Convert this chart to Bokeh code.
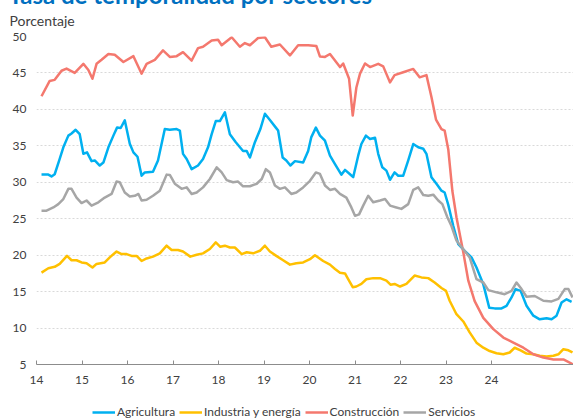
from bokeh.plotting import figure
from bokeh.layouts import column
from bokeh.models import Range1d, FixedTicker, Legend, LegendItem, Title
from bokeh.embed import file_html
from bokeh.resources import INLINE

# ---- data (x in years, e.g. 14.5 = mid 2014) ----
year_ticks = [14, 15, 16, 17, 18, 19, 20, 21, 22, 23, 24]
year_labels = ["14", "15", "16", "17", "18", "19", "20", "21", "22", "23", "24"]
y_ticks = [5, 10, 15, 20, 25, 30, 35, 40, 45, 50]

agri_x = [14.11, 14.26, 14.33, 14.40, 14.51, 14.59, 14.70, 14.77, 14.86, 14.95,
          15.03, 15.11, 15.21, 15.28, 15.39, 15.47, 15.58, 15.69, 15.77, 15.85,
          15.94, 16.05, 16.13, 16.22, 16.31, 16.38, 16.56, 16.67, 16.82, 16.93,
          17.08, 17.15, 17.22, 17.30, 17.41, 17.55, 17.66, 17.77, 17.85, 17.94,
          18.03, 18.14, 18.25, 18.38, 18.54, 18.62, 18.69, 18.80, 18.92, 19.02,
          19.13, 19.26, 19.31, 19.41, 19.49, 19.58, 19.68, 19.86, 19.97, 20.04,
          20.14, 20.23, 20.34, 20.45, 20.56, 20.70, 20.78, 20.89, 20.96, 21.07,
          21.14, 21.24, 21.33, 21.44, 21.51, 21.60, 21.69, 21.77, 21.87, 21.95,
          22.06, 22.17, 22.28, 22.39, 22.50, 22.57, 22.68, 22.79, 22.90, 22.97,
          23.05, 23.16, 23.27, 23.41, 23.56, 23.67, 23.82, 23.95, 24.07, 24.22,
          24.33, 24.44, 24.53, 24.64, 24.77, 24.92, 25.06, 25.21, 25.32, 25.43,
          25.54, 25.65, 25.76]
agri_y = [31.05, 31.05, 30.8, 31.1, 33.2, 34.8, 36.4, 36.7, 37.2, 36.6,
          33.9, 34.1, 32.9, 33.0, 32.3, 32.7, 34.8, 36.4, 37.5, 37.45,
          38.5, 35.3, 34.1, 33.5, 30.9, 31.35, 31.45, 33.0, 37.3, 37.2,
          37.3, 37.1, 33.9, 33.2, 31.8, 32.3, 33.2, 34.8, 36.6, 38.4,
          38.4, 39.6, 36.6, 35.5, 34.3, 34.3, 33.4, 35.5, 37.3, 39.4,
          38.55, 37.5, 37.1, 33.4, 33.0, 32.3, 32.9, 32.7, 34.3, 36.2,
          37.5, 36.4, 35.7, 33.65, 32.5, 31.05, 31.7, 31.1, 30.7, 33.65,
          35.25, 36.4, 35.95, 36.1, 33.9, 32.05, 31.6, 30.35, 31.35, 30.9,
          30.9, 33.0, 35.25, 34.8, 34.6, 33.9, 30.7, 29.8, 28.85, 28.6,
          26.9, 24.0, 21.5, 20.6, 19.7, 18.3, 16.0, 12.8, 12.7, 12.7,
          13.05, 14.2, 15.35, 15.1, 13.05, 11.7, 11.2, 11.35, 11.2, 11.7,
          13.5, 13.95, 13.6]

ind_x = [14.11, 14.26, 14.40, 14.51, 14.67, 14.77, 14.88, 14.99, 15.10, 15.23,
         15.32, 15.50, 15.61, 15.76, 15.87, 15.98, 16.09, 16.20, 16.31, 16.42,
         16.56, 16.71, 16.86, 16.97, 17.11, 17.22, 17.38, 17.52, 17.66, 17.81,
         17.94, 18.04, 18.14, 18.25, 18.36, 18.51, 18.62, 18.76, 18.91, 19.02,
         19.13, 19.27, 19.42, 19.57, 19.71, 19.86, 20.01, 20.12, 20.30, 20.45,
         20.56, 20.67, 20.78, 20.85, 20.95, 21.03, 21.14, 21.25, 21.40, 21.55,
         21.69, 21.78, 21.87, 21.99, 22.13, 22.31, 22.46, 22.61, 22.75, 22.90,
         23.00, 23.08, 23.23, 23.38, 23.52, 23.67, 23.82, 23.96, 24.11, 24.26,
         24.40, 24.51, 24.64, 24.77, 24.92, 25.06, 25.21, 25.36, 25.47, 25.58,
         25.69, 25.78]
ind_y = [17.6, 18.2, 18.4, 18.8, 19.9, 19.3, 19.3, 19.0, 18.9, 18.3,
         18.8, 19.0, 19.7, 20.5, 20.15, 20.15, 19.9, 19.9, 19.2, 19.55,
         19.8, 20.25, 21.3, 20.7, 20.7, 20.5, 19.8, 20.05, 20.25, 20.85,
         21.75, 21.15, 21.3, 21.05, 21.05, 20.15, 20.4, 20.25, 20.6, 21.3,
         20.5, 19.9, 19.3, 18.7, 18.9, 19.0, 19.45, 20.0, 19.2, 18.7,
         18.1, 17.6, 17.5, 16.7, 15.6, 15.7, 16.05, 16.7, 16.85, 16.85,
         16.5, 15.95, 16.05, 15.7, 16.05, 17.2, 16.95, 16.85, 16.25, 15.5,
         15.1, 13.75, 11.9, 10.9, 9.4, 8.0, 7.3, 6.85, 6.55, 6.4,
         6.65, 7.3, 6.95, 6.5, 6.4, 6.2, 6.1, 6.2, 6.4, 7.1,
         6.95, 6.65]

cons_x = [14.11, 14.29, 14.40, 14.55, 14.66, 14.84, 15.03, 15.14, 15.23, 15.32,
          15.43, 15.58, 15.72, 15.91, 16.13, 16.31, 16.42, 16.60, 16.78, 16.93,
          17.08, 17.22, 17.41, 17.55, 17.66, 17.85, 17.99, 18.07, 18.29, 18.47,
          18.58, 18.69, 18.87, 19.02, 19.16, 19.35, 19.57, 19.75, 19.97, 20.15,
          20.23, 20.34, 20.45, 20.67, 20.74, 20.87, 20.95, 21.03, 21.11, 21.22,
          21.33, 21.51, 21.62, 21.77, 21.87, 22.06, 22.28, 22.42, 22.57, 22.68,
          22.78, 22.90, 22.97, 23.05, 23.14, 23.23, 23.38, 23.49, 23.63, 23.82,
          24.04, 24.26, 24.48, 24.70, 24.92, 25.14, 25.36, 25.58, 25.80]
cons_y = [41.8, 43.9, 44.05, 45.3, 45.6, 45.0, 46.25, 45.4, 44.2, 46.25,
          46.8, 47.6, 47.5, 46.5, 47.3, 44.9, 46.25, 46.8, 48.1, 47.2,
          47.3, 47.85, 46.7, 48.4, 48.6, 49.45, 49.55, 48.8, 49.9, 48.6,
          49.1, 48.8, 49.8, 49.9, 48.6, 48.9, 47.4, 48.8, 48.8, 48.7,
          47.25, 47.2, 47.6, 45.8, 46.3, 44.2, 39.15, 43.0, 44.9, 46.3,
          45.8, 46.25, 45.9, 43.7, 44.7, 45.1, 45.55, 44.4, 44.7, 41.7,
          38.6, 37.3, 37.1, 34.5, 28.8, 25.2, 20.4, 16.5, 13.7, 11.4,
          9.85, 8.7, 8.0, 7.3, 6.4, 5.95, 5.7, 5.7, 5.0]

serv_x = [14.11, 14.22, 14.37, 14.48, 14.59, 14.70, 14.77, 14.88, 14.99, 15.10,
          15.21, 15.36, 15.50, 15.65, 15.76, 15.83, 15.94, 16.05, 16.16, 16.24,
          16.31, 16.42, 16.56, 16.71, 16.86, 16.93, 17.04, 17.19, 17.30, 17.41,
          17.52, 17.66, 17.81, 17.96, 18.07, 18.18, 18.32, 18.43, 18.54, 18.69,
          18.84, 18.95, 19.04, 19.13, 19.24, 19.35, 19.46, 19.60, 19.71, 19.86,
          20.01, 20.14, 20.23, 20.34, 20.45, 20.56, 20.67, 20.81, 20.92, 21.00,
          21.09, 21.18, 21.29, 21.40, 21.55, 21.66, 21.77, 21.91, 22.02, 22.17,
          22.28, 22.39, 22.50, 22.61, 22.72, 22.83, 22.92, 23.03, 23.12, 23.23,
          23.38, 23.52, 23.67, 23.82, 23.93, 24.11, 24.29, 24.44, 24.55, 24.66,
          24.77, 24.95, 25.14, 25.32, 25.47, 25.61, 25.69, 25.78]
serv_y = [26.1, 26.1, 26.55, 27.0, 27.7, 29.1, 29.1, 27.9, 27.15, 27.5,
          26.8, 27.25, 27.9, 28.4, 30.1, 30.0, 28.6, 28.05, 28.15, 28.4,
          27.5, 27.6, 28.15, 28.85, 31.05, 31.0, 29.8, 29.1, 29.3, 28.4,
          28.6, 29.3, 30.45, 32.05, 31.35, 30.3, 30.0, 30.1, 29.45, 29.45,
          29.8, 30.45, 31.8, 31.35, 29.55, 29.1, 29.3, 28.4, 28.6, 29.3,
          30.2, 31.35, 31.15, 29.55, 28.95, 29.1, 28.4, 27.9, 26.55, 25.4,
          25.6, 26.8, 28.15, 27.25, 27.5, 27.7, 26.8, 26.55, 26.35, 27.0,
          28.95, 29.3, 28.25, 28.15, 28.3, 27.5, 27.0, 25.2, 24.0, 22.0,
          20.8, 19.7, 16.7, 16.25, 15.2, 14.9, 14.65, 15.1, 16.25, 15.35,
          14.3, 14.4, 13.75, 13.65, 14.0, 15.35, 15.35, 14.2]

series_names = ["Agricultura", "Industria y energía", "Construcción", "Servicios"]
series_colors = ["#00B0F0", "#FFC000", "#F4786E", "#A6A6A6"]
title_text = "Tasa de temporalidad por sectores"
unit_text = "Porcentaje"

FONT = "Lato"
TXT = "#404040"
W = 573
LEFT = 36
SHIFT = 24   # the top of the chart (upper part of the title) lies above the page, as in the cropped original

data = [(agri_x, agri_y), (ind_x, ind_y), (cons_x, cons_y), (serv_x, serv_y)]

# ---- main chart ----
main_title = Title(text=title_text, align="left", offset=8 - LEFT, standoff=-12,
                   vertical_align="bottom",
                   text_font=FONT, text_font_size="24px", text_font_style="bold",
                   text_color="#0070C0")

p = figure(width=W, height=395 + SHIFT, output_backend="svg", toolbar_location=None,
           x_range=Range1d(14, 25.802), y_range=Range1d(5, 50),
           min_border_left=LEFT, min_border_right=0, min_border_top=36 + SHIFT,
           min_border_bottom=31, title=main_title, margin=(-SHIFT, 0, 0, 0))
p.outline_line_color = None
p.background_fill_color = "white"

p.add_layout(Title(text=unit_text, align="left", offset=9 - LEFT, standoff=15,
                   text_font=FONT, text_font_size="14px", text_font_style="normal",
                   text_color=TXT), "above")

p.xaxis.ticker = FixedTicker(ticks=year_ticks)
p.xaxis.major_label_overrides = {t: l for t, l in zip(year_ticks, year_labels)}
p.xaxis.axis_line_color = "#8C8C8C"
p.xaxis.major_tick_line_color = "#8C8C8C"
p.xaxis.major_tick_in = 4
p.xaxis.major_tick_out = 0
p.xaxis.minor_tick_line_color = None
p.xaxis.major_label_standoff = 11
p.xaxis.major_label_text_font = FONT
p.xaxis.major_label_text_font_size = "12px"
p.xaxis.major_label_text_color = TXT

p.yaxis.ticker = FixedTicker(ticks=y_ticks)
p.yaxis.axis_line_color = None
p.yaxis.major_tick_line_color = None
p.yaxis.minor_tick_line_color = None
p.yaxis.major_tick_in = 0
p.yaxis.major_tick_out = 0
p.yaxis.major_label_standoff = 10
p.yaxis.major_label_text_font = FONT
p.yaxis.major_label_text_font_size = "12px"
p.yaxis.major_label_text_color = TXT

p.xgrid.visible = False
p.ygrid.grid_line_color = "#D9D9D9"
p.ygrid.grid_line_dash = "2 2"
p.ygrid.grid_line_width = 1

for (xs, ys), c in zip(data, series_colors):
    p.line(xs, ys, line_color=c, line_width=2.5, line_join="round")

# ---- legend strip (series drawn outside its visible range, used only as legend keys) ----
leg = figure(width=W, height=24, output_backend="svg", toolbar_location=None,
             x_axis_type=None, y_axis_type=None,
             x_range=Range1d(0, 1), y_range=Range1d(0, 1),
             min_border_left=LEFT, min_border_right=0, min_border_top=0,
             min_border_bottom=0)
leg.outline_line_color = None
leg.grid.visible = False
leg_renderers = [leg.line(xs, ys, line_color=c, line_width=2.5)
                 for (xs, ys), c in zip(data, series_colors)]
legend = Legend(items=[LegendItem(label=n, renderers=[r]) for n, r in zip(series_names, leg_renderers)],
                orientation="horizontal", location=(92 - LEFT, 0),
                glyph_width=23, glyph_height=14, label_height=14,
                label_standoff=2, spacing=4, padding=0, margin=0,
                border_line_color=None, background_fill_alpha=0,
                label_text_font=FONT, label_text_font_size="12px",
                label_text_color=TXT)
leg.add_layout(legend)

layout = column(p, leg, spacing=0)
open("out.html", "w").write(file_html(layout, INLINE))
